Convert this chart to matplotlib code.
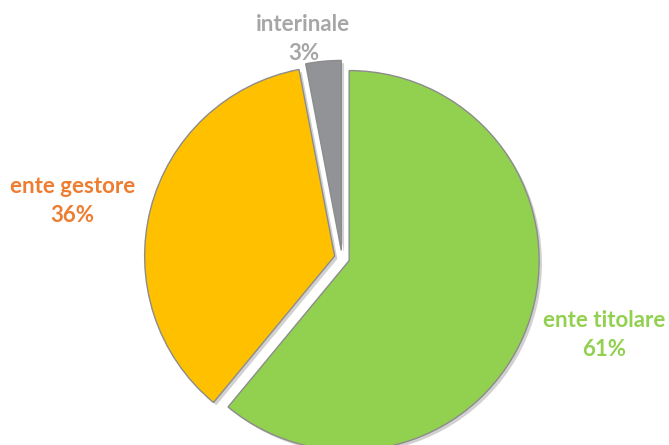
import numpy as np
import matplotlib.pyplot as plt
import matplotlib.patheffects as pe

# Data
categories = ["ente titolare", "ente gestore", "interinale"]
shares = [61, 36, 3]
slice_colors = ["#92D050", "#FFC000", "#929397"]
label_colors = ["#92D050", "#ED7D31", "#A6A6A6"]
label_dist = [1.44, 1.45, 1.17]
label_shift = [3.4, 2.5, 4.6]  # degrees, nudges label off the mid-angle

fig = plt.figure(figsize=(6.69, 4.45), dpi=100)
ax = fig.add_axes([0, 0, 1, 1])

wedges, _ = ax.pie(shares, colors=slice_colors, startangle=90, counterclock=False,
                   explode=[0.04, 0.04, 0.04], radius=1.0,
                   wedgeprops=dict(edgecolor="#8C8C8C", linewidth=1.0))

for w in wedges:
    w.set_path_effects([pe.SimplePatchShadow(offset=(2, -2), shadow_rgbFace="#000000", alpha=0.18),
                        pe.Normal()])

# labels placed along each wedge's middle angle
for w, name, val, col, d, s in zip(wedges, categories, shares, label_colors, label_dist, label_shift):
    ang = np.deg2rad((w.theta1 + w.theta2) / 2 + s)
    x, y = d * np.cos(ang), d * np.sin(ang)
    ax.text(x, y, f"{name}\n{val}%", ha="center", va="center", color=col,
            fontsize=16, fontweight="bold", family="Lato", linespacing=1.5)

ax.set_aspect("equal")
ax.set_xlim(-342 / 190, (669 - 342) / 190)
ax.set_ylim(-(445 - 258) / 190, 258 / 190)
ax.axis("off")

fig.savefig("out.png", dpi=100)
